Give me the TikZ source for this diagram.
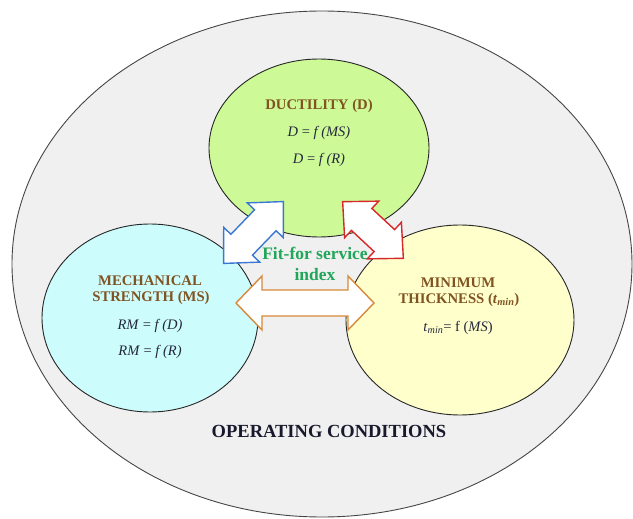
\documentclass[tikz,border=0pt]{standalone}
\usepackage{fontspec}
\setmainfont{Liberation Serif}
\usetikzlibrary{shapes.geometric}
\definecolor{outerfill}{RGB}{240,240,240}
\definecolor{outerline}{RGB}{70,70,70}
\definecolor{greenfill}{RGB}{205,250,150}
\definecolor{bluefill}{RGB}{205,252,252}
\definecolor{yellowfill}{RGB}{255,255,204}
\definecolor{titlebrown}{RGB}{128,84,34}
\definecolor{eqnavy}{RGB}{35,38,60}
\definecolor{fitgreen}{RGB}{33,166,90}
\definecolor{arrblue}{RGB}{58,120,212}
\definecolor{arrred}{RGB}{214,40,40}
\definecolor{arrorange}{RGB}{216,137,58}
\definecolor{opnavy}{RGB}{25,25,45}
\tikzset{
  bubble/.style={ellipse, draw=black!85, line width=0.9pt, inner sep=0pt},
  titletext/.style={font=\fontsize{14.7}{16}\selectfont\bfseries, text=titlebrown, inner sep=0pt},
  eqtext/.style={font=\fontsize{14.5}{16}\selectfont, text=eqnavy, inner sep=0pt},
  fittext/.style={font=\fontsize{17.5}{19}\selectfont\bfseries, text=fitgreen, inner sep=0pt},
  blockarrow/.style={fill=white, line width=1.4pt, line join=miter}
}
% #1 center, #2 angle, #3 length, #4 head length, #5 head half width, #6 shaft half width, #7 style
\newcommand\myDblArrow[7]{%
  \begin{scope}[shift={#1}, rotate=#2]
    \path[blockarrow,#7] (-#3/2,0) -- (-#3/2+#4,#5) -- (-#3/2+#4,#6) -- (#3/2-#4,#6)
      -- (#3/2-#4,#5) -- (#3/2,0) -- (#3/2-#4,-#5) -- (#3/2-#4,-#6)
      -- (-#3/2+#4,-#6) -- (-#3/2+#4,-#5) -- cycle;
  \end{scope}}
\begin{document}
\begin{tikzpicture}[x=1pt, y=-1pt]
\useasboundingbox (0,0) rectangle (633,519);
\fill[white] (0,0) rectangle (633,519);
% outer ellipse
\node[bubble, draw=outerline, fill=outerfill, minimum width=620pt, minimum height=506pt] (outer) at (322,264) {};
% three ellipses
\node[bubble, fill=greenfill, minimum width=220pt, minimum height=178pt] (duct) at (319,148) {};
\node[bubble, fill=bluefill, minimum width=216pt, minimum height=188pt] (mech) at (150,318) {};
\node[bubble, fill=yellowfill, minimum width=228pt, minimum height=190pt] (thick) at (460,320) {};
% block arrows
\myDblArrow{(253.5,232.5)}{46}{86}{26}{25}{15}{draw=arrblue}
\myDblArrow{(373,230)}{-43}{83}{26}{25}{15}{draw=arrred}
\myDblArrow{(305,303)}{0}{138}{26}{27}{13}{draw=arrorange}
% texts: ductility
\node[titletext] (dt) at (319,106) {DUCTILITY (D)};
\node[eqtext] (de1) at (319,133) {\textit{D} = \textit{f (MS)}};
\node[eqtext] (de2) at (319,160) {\textit{D} = \textit{f (R)}};
% mechanical strength
\node[titletext] (mt1) at (150,281) {MECHANICAL};
\node[titletext] (mt2) at (151,298) {STRENGTH (MS)};
\node[eqtext] (me1) at (150,326) {\textit{RM} = \textit{f (D)}};
\node[eqtext] (me2) at (150,352) {\textit{RM} = \textit{f (R)}};
% minimum thickness
\node[titletext] (tt1) at (458,283) {MINIMUM};
\node[titletext] (tt2) at (459,300) {THICKNESS (\textit{t}\textsubscript{\textit{min}})};
\node[eqtext] (te1) at (458,328) {\textit{t}\textsubscript{\textit{min}}= f (\textit{MS})};
% centre label
\node[fittext] (fit1) at (315,253) {Fit-for service};
\node[fittext] (fit2) at (315,275) {index};
% operating conditions
\node[font=\fontsize{18.5}{20}\selectfont\bfseries, text=opnavy, inner sep=0pt] (op) at (329,431) {OPERATING CONDITIONS};
\end{tikzpicture}
\end{document}
